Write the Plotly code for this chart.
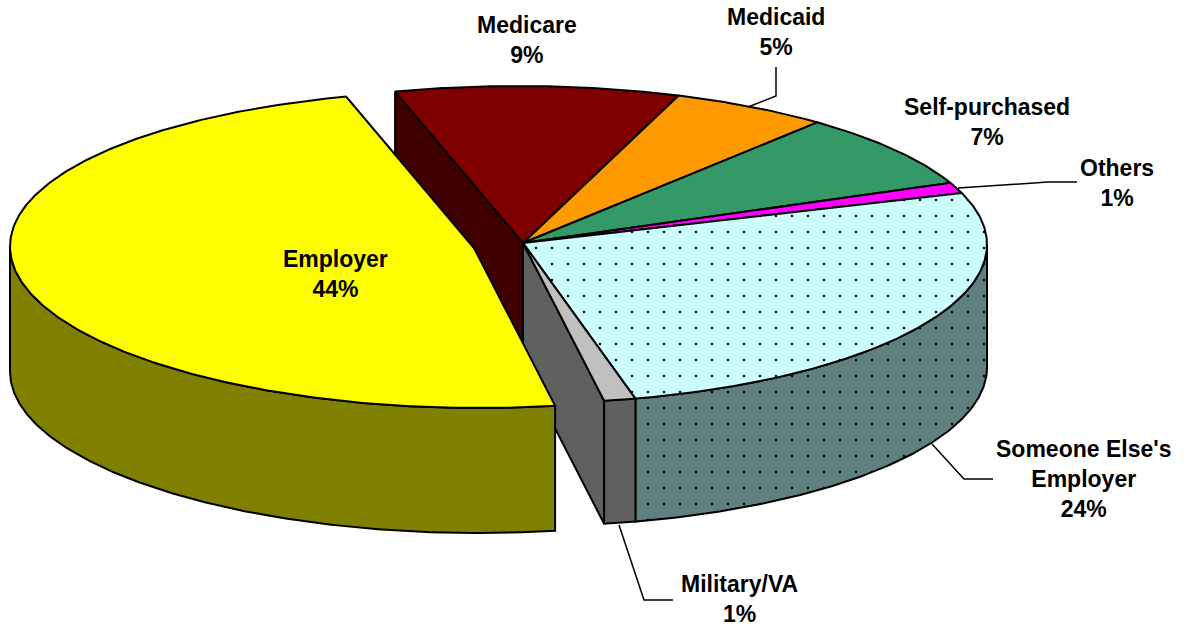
import math
import plotly.graph_objects as go

categories = ["Medicare", "Medicaid", "Self-purchased", "Others",
              "Someone Else's<br>Employer", "Military/VA", "Employer"]
values = [9, 5, 7, 1, 24, 1, 44]
top_colors = ["#800000", "#FF9900", "#339966", "#FF00FF", "#CCFFFF", "#C0C0C0", "#FFFF00"]
side_colors = ["#400000", "#804D00", "#1A4D33", "#800080", "#608080", "#606060", "#808000"]
first_angle = -16
exploded = "Employer"

W, H = 1187, 626
CX, CY, RX, DEPTH = 523, 243, 464, 123
EXPLODE_DX, EXPLODE_DY = -49, 5
LINE = dict(color="black", width=2)


def pt(a, ox=0, oy=0, dz=0):
    r = math.radians(a)
    ry = 158.5 - 1.5 * math.cos(r)
    return CX + ox + RX * math.sin(r), CY + oy - ry * math.cos(r) + 1.5 * math.sin(r) + dz


def arc(a0, a1, ox=0, oy=0, dz=0):
    n = max(2, int(abs(a1 - a0) * 2))
    return [pt(a0 + (a1 - a0) * i / n, ox, oy, dz) for i in range(n + 1)]


def poly(points, fill, pattern=False):
    xs = [p[0] for p in points] + [points[0][0]]
    ys = [p[1] for p in points] + [points[0][1]]
    kw = dict(fillcolor=fill)
    if pattern:
        kw["fillpattern"] = dict(shape=".", size=16, solidity=0.018, fgcolor="black",
                                 bgcolor=fill, fillmode="replace")
    return go.Scatter(x=xs, y=ys, mode="lines", fill="toself", line=LINE,
                      hoverinfo="skip", showlegend=False, **kw)


total = sum(values)
slices = {}
angle = first_angle
for c, v, t, s in zip(categories, values, top_colors, side_colors):
    span = 360 * v / total
    slices[c] = (angle, angle + span, t, s, "Else" in c)
    angle += span

traces_main_wall, traces_main_top, traces_exp = [], [], []
main = [c for c in categories if c != exploded]
first = slices[main[0]]
last = slices[main[-1]]
# cut walls of the main body exposed by the exploded slice
traces_main_wall.append(poly([pt(first[0]), (CX, CY), (CX, CY + DEPTH), pt(first[0], dz=DEPTH)], first[3]))
traces_main_wall.append(poly([(CX, CY), pt(last[1]), pt(last[1], dz=DEPTH), (CX, CY + DEPTH)], last[3]))

for c in main:
    a0, a1, t, s, pat = slices[c]
    lo, hi = max(a0, 90), min(a1, 270)
    if hi > lo:
        wall = arc(lo, hi) + arc(hi, lo, dz=DEPTH)
        traces_main_wall.append(poly(wall, s, pat))
    traces_main_top.append(poly([(CX, CY)] + arc(a0, a1), t, pat))

a0, a1, t, s, pat = slices[exploded]
ox, oy = EXPLODE_DX, EXPLODE_DY
lo, hi = max(a0, 90), min(a1, 270)
traces_exp.append(poly(arc(lo, hi, ox, oy) + arc(hi, lo, ox, oy, DEPTH + 2), s))
traces_exp.append(poly([(CX + ox, CY + oy)] + arc(a0, a1, ox, oy), t))

leaders = [
    [(748, 107), (776, 96), (776, 67)],
    [(958, 188), (1048, 182), (1077, 182)],
    [(932, 444), (964, 479), (993, 479)],
    [(619, 525), (644, 600), (673, 600)],
]
leader_traces = [go.Scatter(x=[p[0] for p in l], y=[p[1] for p in l], mode="lines",
                            line=dict(color="black", width=1.5), hoverinfo="skip", showlegend=False)
                 for l in leaders]

label_pos = {
    "Medicare": (527, 40), "Medicaid": (775.5, 31.5), "Self-purchased": (987, 121.5),
    "Others": (1117, 182.5), "Someone Else's<br>Employer": (1084, 478.5),
    "Military/VA": (739, 599), "Employer": (335, 274),
}
annotations = [
    dict(x=label_pos[c][0], y=label_pos[c][1], xref="x", yref="y", showarrow=False,
         text=f"<b>{c}<br>{v}%</b>", align="center",
         font=dict(family="Liberation Sans", size=23, color="black"))
    for c, v in zip(categories, values)
]

fig = go.Figure(traces_main_wall + traces_main_top + traces_exp + leader_traces)
fig.update_layout(
    width=W, height=H, margin=dict(l=0, r=0, t=0, b=0),
    paper_bgcolor="white", plot_bgcolor="white", annotations=annotations,
    xaxis=dict(range=[0, W], visible=False, fixedrange=True),
    yaxis=dict(range=[H, 0], visible=False, fixedrange=True),
)
fig.write_html("out.html", config={"displayModeBar": False},
               post_script="document.body.style.margin='0';document.body.style.overflow='hidden';")
